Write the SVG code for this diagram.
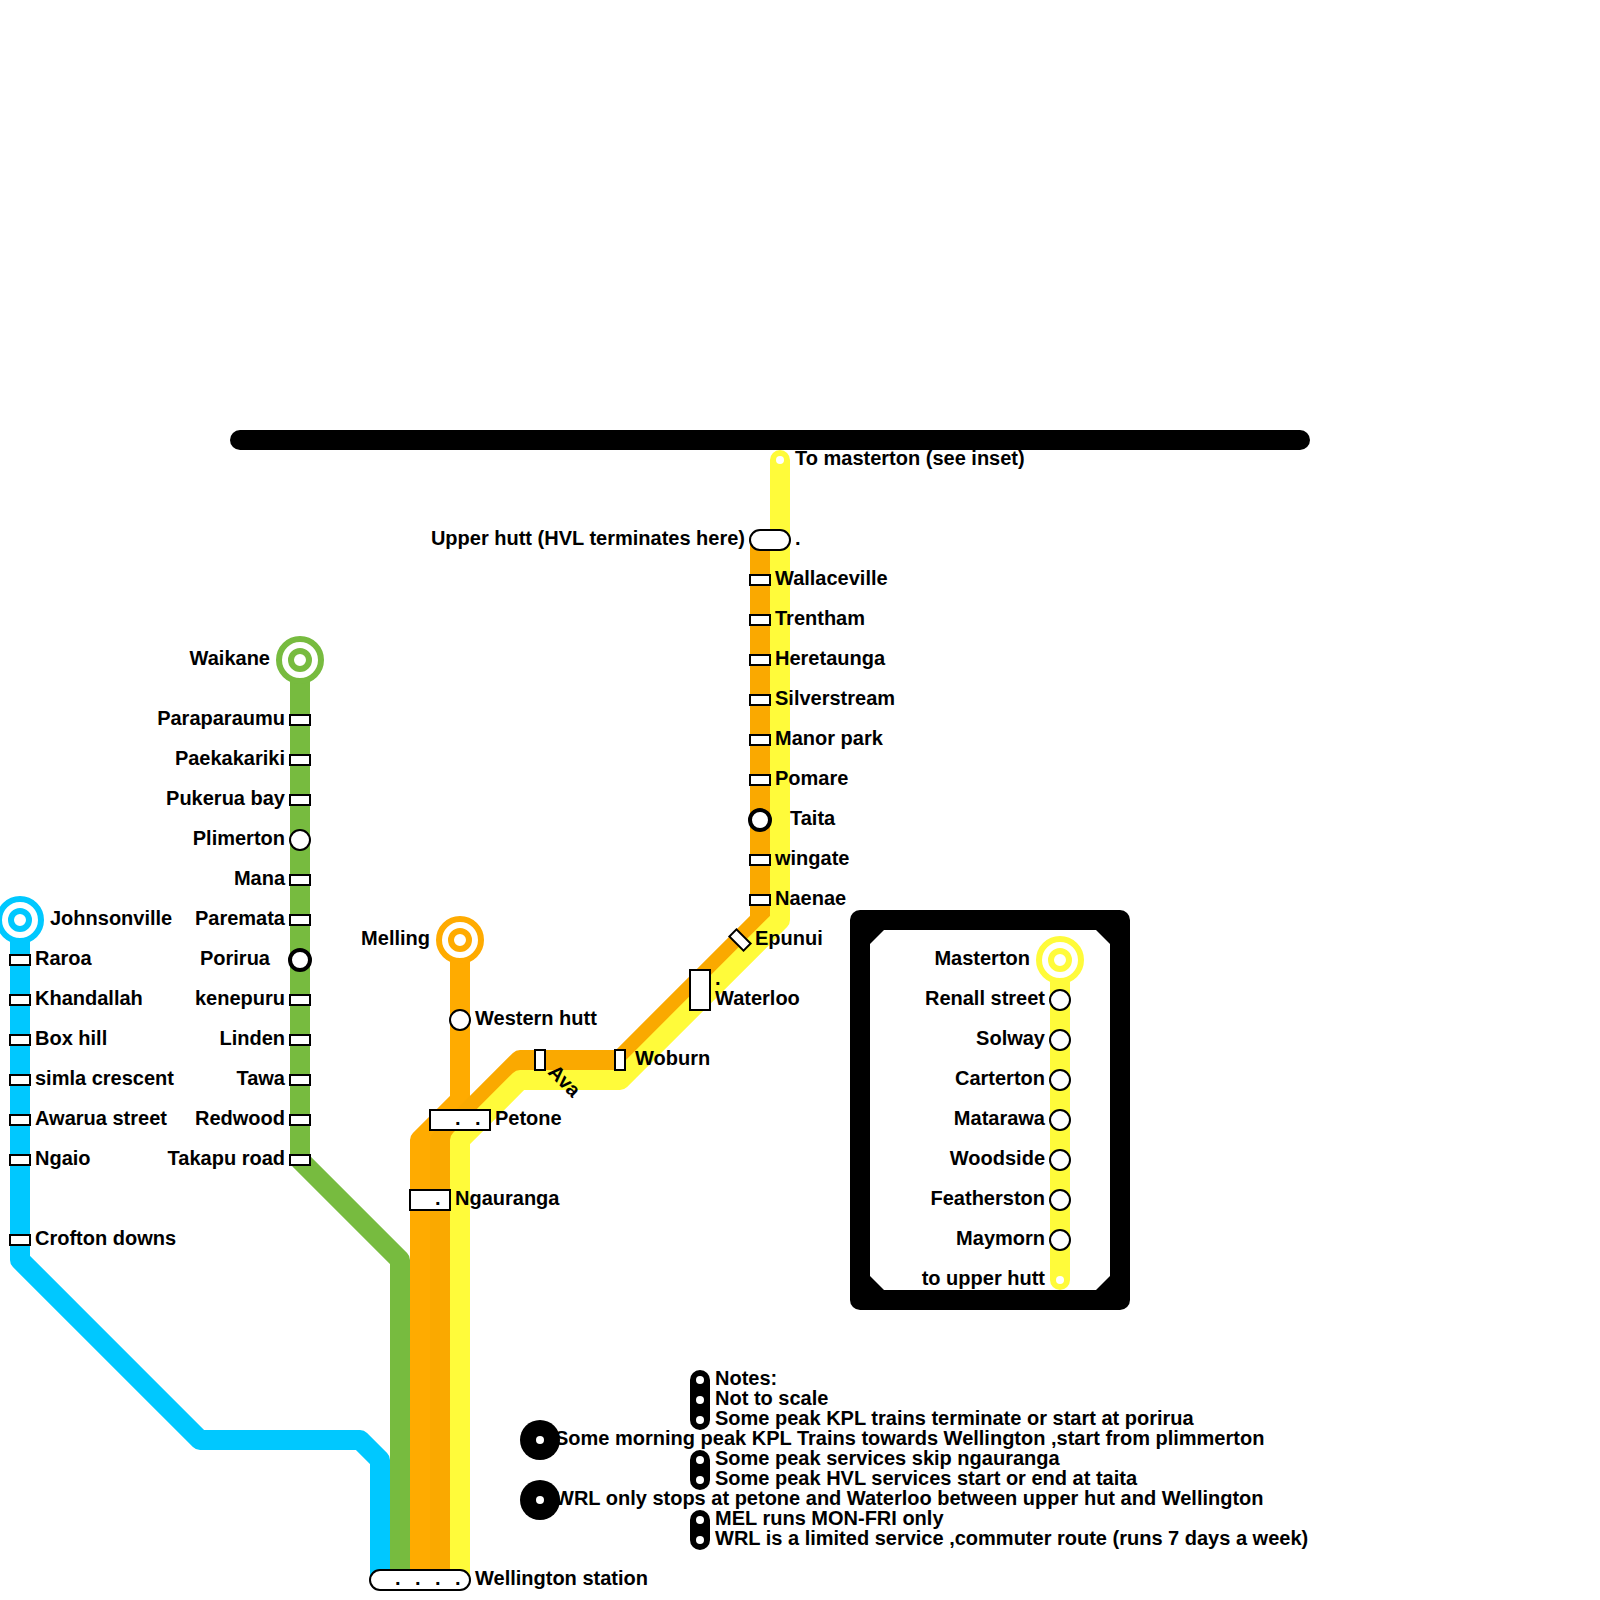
<svg xmlns="http://www.w3.org/2000/svg" width="1600" height="1600" viewBox="0 0 1600 1600">
<style>
text{font-family:"Liberation Sans",Arial,sans-serif;font-weight:700;font-size:20px;fill:#000}
.e{text-anchor:end}
.ln{fill:none;stroke-width:20;stroke-linejoin:round;stroke-linecap:butt}
.st{fill:#fff;stroke:#000;stroke-width:2}
.ic{fill:#fff;stroke:#000;stroke-width:2}
.ic2{fill:#fff;stroke:#000;stroke-width:4}
.wd{fill:#fff}
</style>
<defs>
<rect id="s" class="st" x="-10" y="-5" width="20" height="10"/>
<circle id="c" class="ic" r="10"/>
</defs>
<g id="frame">
<path d="M240 440H1300" fill="none" stroke="#000" stroke-width="20" stroke-linecap="round"/>
</g>
<g id="inset">
<rect x="850" y="910" width="280" height="400" rx="10" fill="#000"/>
<path d="M884 930H1096L1110 944V1276L1096 1290H884L870 1276V944Z" fill="#fff"/>
</g>
<g id="connectors">
<path class="ln" stroke="#00c8ff" d="M20 920V1260L200 1440H360L380 1460V1580"/>
<path class="ln" stroke="#77bb3f" d="M300 660V1160L400 1260V1580"/>
<path class="ln" stroke="#ffab00" d="M460 940V1100L420 1140V1580"/>
<path class="ln" stroke="#faa900" d="M760 540V920L620 1060H520L440 1140V1580"/>
<path class="ln" stroke="#fffb3a" style="stroke-linecap:round" d="M780 460V920L620 1080H520L460 1140V1580"/>
<path class="ln" stroke="#fffb3a" style="stroke-linecap:round" d="M1060 960V1280"/>
</g>
<g id="black-dots">
<circle cx="540" cy="1440" r="20" fill="#000"/><circle class="wd" cx="540" cy="1440" r="4"/>
<circle cx="540" cy="1500" r="20" fill="#000"/><circle class="wd" cx="540" cy="1500" r="4"/>
<path d="M700 1380V1420M700 1460V1480M700 1520V1540" stroke="#000" stroke-width="20" stroke-linecap="round" fill="none"/>
<g class="wd"><circle cx="700" cy="1380" r="4"/><circle cx="700" cy="1400" r="4"/><circle cx="700" cy="1420" r="4"/><circle cx="700" cy="1460" r="4"/><circle cx="700" cy="1480" r="4"/><circle cx="700" cy="1520" r="4"/><circle cx="700" cy="1540" r="4"/></g>
</g>
<g id="terminal-dots"><circle class="wd" cx="780" cy="460" r="4"/><circle class="wd" cx="1060" cy="1280" r="4"/></g>
<g id="johnsonville"><circle cx="20" cy="920" r="21" fill="#fff" stroke="#00c8ff" stroke-width="6"/><circle cx="20" cy="920" r="9" fill="#fff" stroke="#00c8ff" stroke-width="6"/><text x="50" y="925">Johnsonville</text></g>
<g id="blue-stations">
<use href="#s" x="20" y="960"/><text x="35" y="965">Raroa</text>
<use href="#s" x="20" y="1000"/><text x="35" y="1005">Khandallah</text>
<use href="#s" x="20" y="1040"/><text x="35" y="1045">Box hill</text>
<use href="#s" x="20" y="1080"/><text x="35" y="1085">simla crescent</text>
<use href="#s" x="20" y="1120"/><text x="35" y="1125">Awarua street</text>
<use href="#s" x="20" y="1160"/><text x="35" y="1165">Ngaio</text>
<use href="#s" x="20" y="1240"/><text x="35" y="1245">Crofton downs</text>
</g>
<g id="waikane"><circle cx="300" cy="660" r="21" fill="#fff" stroke="#77bb3f" stroke-width="6"/><circle cx="300" cy="660" r="9" fill="#fff" stroke="#77bb3f" stroke-width="6"/><text class="e" x="270" y="665">Waikane</text></g>
<g id="green-stations">
<use href="#s" x="300" y="720"/><text class="e" x="285" y="725">Paraparaumu</text>
<use href="#s" x="300" y="760"/><text class="e" x="285" y="765">Paekakariki</text>
<use href="#s" x="300" y="800"/><text class="e" x="285" y="805">Pukerua bay</text>
<use href="#c" x="300" y="840"/><text class="e" x="285" y="845">Plimerton</text>
<use href="#s" x="300" y="880"/><text class="e" x="285" y="885">Mana</text>
<use href="#s" x="300" y="920"/><text class="e" x="285" y="925">Paremata</text>
<circle class="ic2" cx="300" cy="960" r="10"/><text class="e" x="270" y="965">Porirua</text>
<use href="#s" x="300" y="1000"/><text class="e" x="285" y="1005">kenepuru</text>
<use href="#s" x="300" y="1040"/><text class="e" x="285" y="1045">Linden</text>
<use href="#s" x="300" y="1080"/><text class="e" x="285" y="1085">Tawa</text>
<use href="#s" x="300" y="1120"/><text class="e" x="285" y="1125">Redwood</text>
<use href="#s" x="300" y="1160"/><text class="e" x="285" y="1165">Takapu road</text>
</g>
<g id="melling"><circle cx="460" cy="940" r="21" fill="#fff" stroke="#ffab00" stroke-width="6"/><circle cx="460" cy="940" r="9" fill="#fff" stroke="#ffab00" stroke-width="6"/><text class="e" x="430" y="945">Melling</text></g>
<g id="western-hutt"><use href="#c" x="460" y="1020"/><text x="475" y="1025">Western hutt</text></g>
<g id="petone"><rect class="st" x="430" y="1110" width="60" height="20"/><text x="455" y="1125">.</text><text x="475" y="1125">.</text><text x="495" y="1125">Petone</text></g>
<g id="ngauranga"><rect class="st" x="410" y="1190" width="40" height="20"/><text x="435" y="1205">.</text><text x="455" y="1205">Ngauranga</text></g>
<g id="wellington"><rect class="st" x="370" y="1570" width="100" height="20" rx="10"/><text x="395" y="1585">.</text><text x="415" y="1585">.</text><text x="435" y="1585">.</text><text x="455" y="1585">.</text><text x="475" y="1585">Wellington station</text></g>
<g id="ava"><rect class="st" x="535" y="1050" width="10" height="20"/><text transform="translate(547 1073) rotate(45)">Ava</text></g>
<g id="woburn"><rect class="st" x="615" y="1050" width="10" height="20"/><text x="635" y="1065">Woburn</text></g>
<g id="waterloo"><rect class="st" x="690" y="970" width="20" height="40"/><text x="715" y="985">.</text><text x="715" y="1005">Waterloo</text></g>
<g id="epunui"><rect class="st" x="730" y="935" width="20" height="10" transform="rotate(45 740 940)"/><text x="755" y="945">Epunui</text></g>
<g id="upper-hutt"><rect class="st" x="750" y="530" width="40" height="20" rx="10"/><text class="e" x="745" y="545">Upper hutt (HVL terminates here)</text><text x="795" y="545">.</text></g>
<g id="to-masterton"><text x="795" y="465">To masterton (see inset)</text></g>
<g id="hutt-stations">
<use href="#s" x="760" y="580"/><text x="775" y="585">Wallaceville</text>
<use href="#s" x="760" y="620"/><text x="775" y="625">Trentham</text>
<use href="#s" x="760" y="660"/><text x="775" y="665">Heretaunga</text>
<use href="#s" x="760" y="700"/><text x="775" y="705">Silverstream</text>
<use href="#s" x="760" y="740"/><text x="775" y="745">Manor park</text>
<use href="#s" x="760" y="780"/><text x="775" y="785">Pomare</text>
<circle class="ic2" cx="760" cy="820" r="10"/><text x="790" y="825">Taita</text>
<use href="#s" x="760" y="860"/><text x="775" y="865">wingate</text>
<use href="#s" x="760" y="900"/><text x="775" y="905">Naenae</text>
</g>
<g id="masterton"><circle cx="1060" cy="960" r="21" fill="#fff" stroke="#fffb3a" stroke-width="6"/><circle cx="1060" cy="960" r="9" fill="#fff" stroke="#fffb3a" stroke-width="6"/><text class="e" x="1030" y="965">Masterton</text></g>
<g id="inset-stations">
<use href="#c" x="1060" y="1000"/><text class="e" x="1045" y="1005">Renall street</text>
<use href="#c" x="1060" y="1040"/><text class="e" x="1045" y="1045">Solway</text>
<use href="#c" x="1060" y="1080"/><text class="e" x="1045" y="1085">Carterton</text>
<use href="#c" x="1060" y="1120"/><text class="e" x="1045" y="1125">Matarawa</text>
<use href="#c" x="1060" y="1160"/><text class="e" x="1045" y="1165">Woodside</text>
<use href="#c" x="1060" y="1200"/><text class="e" x="1045" y="1205">Featherston</text>
<use href="#c" x="1060" y="1240"/><text class="e" x="1045" y="1245">Maymorn</text>
<text class="e" x="1045" y="1285">to upper hutt</text>
</g>
<g id="notes">
<text x="715" y="1385">Notes:</text>
<text x="715" y="1405">Not to scale</text>
<text x="715" y="1425">Some peak KPL trains terminate or start at porirua</text>
<text x="555" y="1445">Some morning peak KPL Trains towards Wellington ,start from plimmerton</text>
<text x="715" y="1465">Some peak services skip ngauranga</text>
<text x="715" y="1485">Some peak HVL services start or end at taita</text>
<text x="555" y="1505">WRL only stops at petone and Waterloo between upper hut and Wellington</text>
<text x="715" y="1525">MEL runs MON-FRI only</text>
<text x="715" y="1545">WRL is a limited service ,commuter route (runs 7 days a week)</text>
</g>
</svg>
